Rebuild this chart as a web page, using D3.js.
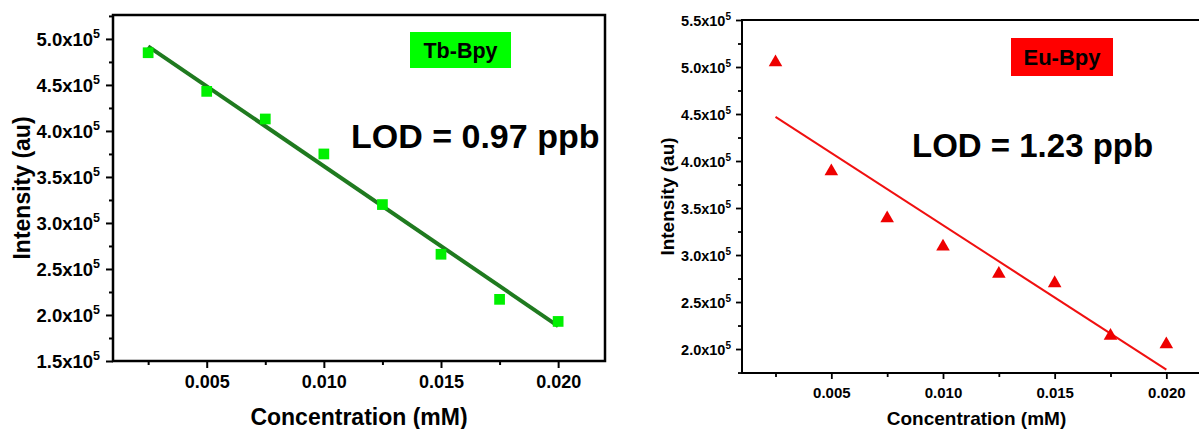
<!DOCTYPE html>
<html><head><meta charset="utf-8">
<script src="https://cdn.jsdelivr.net/npm/d3@7"></script>
<style>
html,body{margin:0;padding:0;background:#fff;}
svg text{font-family:"Liberation Sans",Arial,sans-serif;font-weight:bold;fill:#000;}
</style></head>
<body><svg id="c" width="1199" height="429"></svg>
<script>
// ---- data ----
const concentration = [0.0025, 0.005, 0.0075, 0.010, 0.0125, 0.015, 0.0175, 0.020];
const tbIntensity = [485000, 443000, 413000, 375000, 320000, 266000, 217000, 193000];
const euIntensity = [505000, 389000, 339000, 309000, 280000, 270000, 214000, 205000];
const fitX = [0.0025, 0.020];
const tbFit = [492000, 188000];
const euFit = [447000, 178000];
const xTickValues = [0.005, 0.010, 0.015, 0.020];
const xMinorTicks = [0.0025, 0.0075, 0.0125, 0.0175];
const tbYTicks = [150000, 200000, 250000, 300000, 350000, 400000, 450000, 500000];
const euYTicks = [200000, 250000, 300000, 350000, 400000, 450000, 500000, 550000];
const tbLabel = "Tb-Bpy", euLabel = "Eu-Bpy";
const tbLOD = "LOD = 0.97 ppb", euLOD = "LOD = 1.23 ppb";
const xTitle = "Concentration (mM)", yTitle = "Intensity (au)";

const svg = d3.select("#c");

function panel(o){
  const g = svg.append("g");
  const x = d3.scaleLinear().domain([0.001, 0.022]).range([o.x0, o.x1]);
  const y = d3.scaleLinear().domain(o.yDomain).range([o.y1, o.y0]);
  const yMinor = [];
  for (let v = o.yDomain[0]; v <= o.yDomain[1]; v += 25000) {
    const r = Math.round(v/25000)*25000;
    if (r % 50000 !== 0 && r >= o.yDomain[0] && r <= o.yDomain[1]) yMinor.push(r);
  }
  g.append("g").attr("transform",`translate(${o.x0},0)`)
    .call(d3.axisLeft(y).tickValues(yMinor).tickSize(o.minorLen).tickFormat(""))
    .call(s=>{s.select(".domain").remove(); s.selectAll("line").attr("stroke","#000").attr("stroke-width",o.tickW);});
  g.append("g").attr("transform",`translate(0,${o.y1})`)
    .call(d3.axisBottom(x).tickValues(xMinorTicks).tickSize(o.minorLen).tickFormat(""))
    .call(s=>{s.select(".domain").remove(); s.selectAll("line").attr("stroke","#000").attr("stroke-width",o.tickW);});
  const ya = g.append("g").attr("transform",`translate(${o.x0},0)`)
    .call(d3.axisLeft(y).tickValues(o.yTicks).tickSize(o.majorLen).tickPadding(o.yPad).tickFormat(""));
  ya.select(".domain").remove();
  ya.selectAll("line").attr("stroke","#000").attr("stroke-width",o.tickW);
  ya.selectAll(".tick").each(function(d){
    const t = d3.select(this).append("text")
      .attr("x", -(o.majorLen + o.yPad)).attr("dy","0.36em")
      .attr("text-anchor","end").style("font-size", o.tickFont+"px");
    t.append("tspan").text((d/100000).toFixed(1) + "x10");
    t.append("tspan").text("5").style("font-size", o.supFont+"px").attr("dy", -o.tickFont*0.42);
  });
  const xa = g.append("g").attr("transform",`translate(0,${o.y1})`)
    .call(d3.axisBottom(x).tickValues(xTickValues).tickSize(o.majorLen).tickPadding(o.xPad).tickFormat(d3.format(".3f")));
  xa.select(".domain").remove();
  xa.selectAll("line").attr("stroke","#000").attr("stroke-width",o.tickW);
  xa.selectAll("text").style("font-size", o.xTickFont+"px").attr("fill","#000");
  g.append("rect").attr("x",o.x0).attr("y",o.y0).attr("width",o.x1-o.x0).attr("height",o.y1-o.y0)
    .attr("fill","none").attr("stroke","#000").attr("stroke-width",o.frameW);
  g.append("line").attr("x1",x(fitX[0])).attr("y1",y(o.fit[0])).attr("x2",x(fitX[1])).attr("y2",y(o.fit[1]))
    .attr("stroke",o.lineColor).attr("stroke-width",o.lineW);
  const sym = d3.symbol().type(o.symbol).size(o.symSize);
  g.selectAll(".pt").data(o.values).join("path")
    .attr("d", sym)
    .attr("transform",(d,i)=>`translate(${x(concentration[i])},${y(d)})`)
    .attr("fill",o.ptColor);
  g.append("rect").attr("x",o.box[0]).attr("y",o.box[1]).attr("width",o.box[2]).attr("height",o.box[3]).attr("fill",o.boxColor);
  g.append("text").attr("x",o.box[0]+o.box[2]/2).attr("y",o.box[1]+o.box[3]/2).attr("dy","0.36em")
    .attr("text-anchor","middle").style("font-size",o.boxFont+"px").text(o.label);
  g.append("text").attr("x",o.lod[0]).attr("y",o.lod[1]).style("font-size",o.lodFont+"px").text(o.lodText);
  g.append("text").attr("x",(o.x0+o.x1)/2).attr("y",o.xTitleY).attr("text-anchor","middle")
    .style("font-size",o.titleFont+"px").text(xTitle);
  g.append("text").attr("transform",`translate(${o.yTitleX},${(o.y0+o.y1)/2}) rotate(-90)`)
    .attr("text-anchor","middle").attr("dy","0.36em").style("font-size",o.titleFont+"px").text(yTitle);
}

panel({x0:113, x1:605, y0:15, y1:361, yDomain:[150000, 526000], yTicks:tbYTicks,
  majorLen:7, minorLen:4, tickW:2, frameW:2.5, yPad:6, xPad:7, tickFont:18.5, supFont:12.5, xTickFont:18,
  fit:tbFit, lineColor:"#1f7a1f", lineW:4, values:tbIntensity, symbol:d3.symbolSquare, symSize:115, ptColor:"#00f000",
  box:[410,32,101,36], boxColor:"#00ff00", boxFont:21.5, label:tbLabel,
  lod:[351,148], lodFont:34, lodText:tbLOD, titleFont:23, xTitleY:425, yTitleX:22});

panel({x0:742, x1:1211, y0:20, y1:373, yDomain:[174500, 550000], yTicks:euYTicks,
  majorLen:6, minorLen:4, tickW:1.8, frameW:2, yPad:5, xPad:8, tickFont:14.5, supFont:10, xTickFont:15,
  fit:euFit, lineColor:"#f01010", lineW:2, values:euIntensity, symbol:d3.symbolTriangle, symSize:80, ptColor:"#ee0000",
  box:[1011,38,102,38], boxColor:"#ff0000", boxFont:22, label:euLabel,
  lod:[912,157], lodFont:33, lodText:euLOD, titleFont:19, xTitleY:425, yTitleX:667});
</script></body></html>
